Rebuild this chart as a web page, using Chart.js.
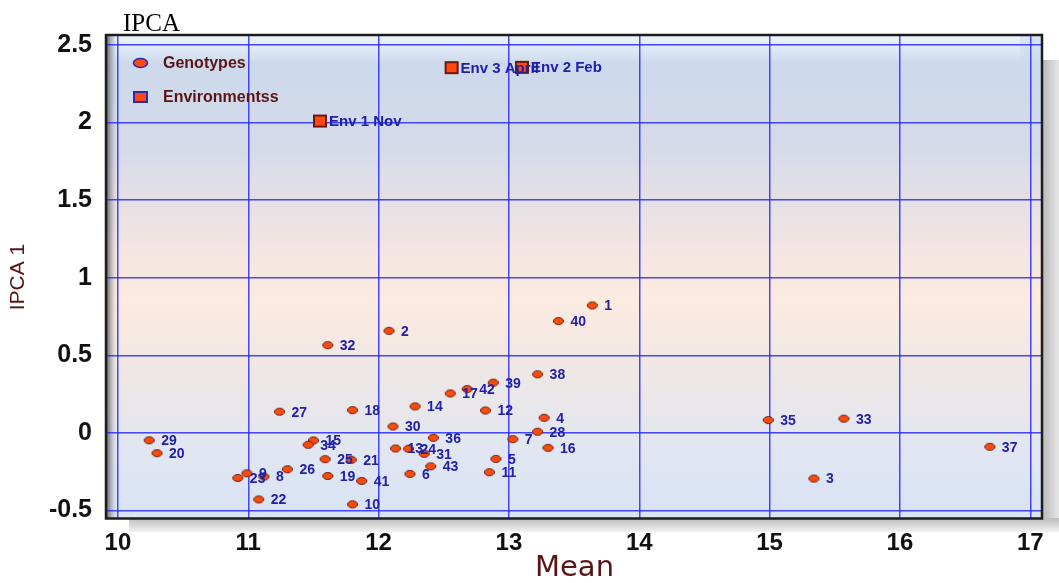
<!DOCTYPE html>
<html>
<head>
<meta charset="utf-8">
<script src="https://cdn.jsdelivr.net/npm/chart.js@4.4.1/dist/chart.umd.min.js"></script>
<style>
  html, body { margin: 0; padding: 0; background: #fff; overflow: hidden; }
  canvas { display: block; }
</style>
</head>
<body>
<canvas id="chart" width="1059" height="583"></canvas>
<script>
// Genotypes: mean yield and first IPCA score
const genotypeIds = ['1','2','3','4','5','6','7','8','9','10','11','12','13','14','15','16','17','18','19','20','21','22','23','24','25','26','27','28','29','30','31','32','33','34','35','36','37','38','39','40','41','42','43'];
const genotypeMean = [13.64, 12.08, 15.34, 13.27, 12.90, 12.24, 13.03, 11.12, 10.99, 11.80,
                      12.85, 12.82, 12.13, 12.28, 11.50, 13.30, 12.55, 11.80, 11.61, 10.30,
                      11.79, 11.08, 10.92, 12.23, 11.59, 11.30, 11.24, 13.22, 10.24, 12.11,
                      12.35, 11.61, 15.57, 11.46, 14.99, 12.42, 16.69, 13.22, 12.88, 13.38,
                      11.87, 12.68, 12.40];
const genotypeIPCA1 = [0.822, 0.658, -0.294, 0.098, -0.167, -0.264, -0.040, -0.281, -0.260, -0.460,
                       -0.253, 0.145, -0.100, 0.171, -0.048, -0.096, 0.255, 0.147, -0.277, -0.130,
                       -0.173, -0.428, -0.290, -0.102, -0.169, -0.234, 0.137, 0.008, -0.047, 0.042,
                       -0.134, 0.566, 0.092, -0.076, 0.083, -0.031, -0.089, 0.378, 0.324, 0.721,
                       -0.309, 0.283, -0.215];

// Environments
const envNames = ['Env 1 Nov', 'Env 2 Feb', 'Env 3 April'];
const envMean = [11.55, 13.10, 12.56];
const envIPCA1 = [2.010, 2.356, 2.354];

// Axis ticks and legend entries
const xTickValues = [10, 11, 12, 13, 14, 15, 16, 17];
const yTickValues = [-0.5, 0, 0.5, 1, 1.5, 2, 2.5];
const legendLabels = ['Genotypes', 'Environmentss'];

const ORANGE = '#ff4a0c';
const LABEL_BLUE = '#2020aa';
const MAROON = '#5a1414';
const GRID_BLUE = 'rgba(40,40,255,0.85)';
const SANS = '"Liberation Sans", Arial, sans-serif';

// small sprites used as point styles
function ellipseSprite(w, h, fill, stroke, lw) {
  const c = document.createElement('canvas');
  c.width = w + 3; c.height = h + 3;
  const g = c.getContext('2d');
  g.beginPath();
  g.ellipse(c.width / 2, c.height / 2, w / 2, h / 2, 0, 0, Math.PI * 2);
  g.fillStyle = fill; g.fill();
  g.lineWidth = lw; g.strokeStyle = stroke; g.stroke();
  return c;
}
function squareSprite(w, h, fill, stroke, lw) {
  const c = document.createElement('canvas');
  c.width = w + 2; c.height = h + 2;
  const g = c.getContext('2d');
  g.fillStyle = fill; g.fillRect(1, 1, w, h);
  g.lineWidth = lw; g.strokeStyle = stroke;
  g.strokeRect(1 + lw / 2, 1 + lw / 2, w - lw, h - lw);
  return c;
}

const genoMarker = ellipseSprite(10, 7, ORANGE, '#5a1a08', 1);
const envMarker = squareSprite(14, 13, ORANGE, '#6e1608', 2);
const legendMarkers = [ellipseSprite(14, 9, ORANGE, '#2a2ab8', 1.6), squareSprite(15, 12, ORANGE, '#2a2ab8', 2)];

// background panel, drop shadow, and frame
const panel = {
  id: 'panel',
  beforeDraw(chart) {
    const { ctx, chartArea: a, width, height } = chart;
    ctx.save();
    ctx.fillStyle = '#ffffff';
    ctx.fillRect(0, 0, width, height);

    // drop shadow right and below
    let g = ctx.createLinearGradient(a.right, 0, width, 0);
    g.addColorStop(0, '#b8b8b8');
    g.addColorStop(1, '#e6e6e6');
    ctx.fillStyle = g;
    ctx.fillRect(a.right, a.top + 24, width - a.right, a.bottom - a.top - 10);
    g = ctx.createLinearGradient(0, a.bottom, 0, a.bottom + 14);
    g.addColorStop(0, '#bcbcbc');
    g.addColorStop(1, '#f2f2f2');
    ctx.fillStyle = g;
    ctx.fillRect(a.left + 22, a.bottom, width - a.left - 22, 14);

    // plot background
    g = ctx.createLinearGradient(0, a.top, 0, a.bottom);
    g.addColorStop(0.00, '#dae6f7');
    g.addColorStop(0.06, '#ccd9ec');
    g.addColorStop(0.24, '#d6dbe9');
    g.addColorStop(0.44, '#f3e5e2');
    g.addColorStop(0.55, '#fcebdf');
    g.addColorStop(0.70, '#eee7e6');
    g.addColorStop(0.86, '#e1e6f1');
    g.addColorStop(1.00, '#d8e3f5');
    ctx.fillStyle = g;
    ctx.fillRect(a.left, a.top, a.right - a.left, a.bottom - a.top);

    // glossy band along the top
    g = ctx.createLinearGradient(0, a.top, 0, a.top + 26);
    g.addColorStop(0, 'rgba(240,248,255,0.75)');
    g.addColorStop(1, 'rgba(240,248,255,0)');
    ctx.fillStyle = g;
    ctx.fillRect(a.left + 8, a.top, a.right - a.left - 30, 26);

    // bevel on the left inner edge
    g = ctx.createLinearGradient(a.left, 0, a.left + 9, 0);
    g.addColorStop(0, 'rgba(90,90,90,0.85)');
    g.addColorStop(1, 'rgba(160,160,170,0)');
    ctx.fillStyle = g;
    ctx.fillRect(a.left, a.top, 9, a.bottom - a.top);
    ctx.restore();
  },
  afterDraw(chart) {
    const { ctx, chartArea: a } = chart;
    ctx.save();
    ctx.strokeStyle = '#1c1c1c';
    ctx.lineWidth = 2.5;
    ctx.strokeRect(a.left - 1, a.top - 1, a.right - a.left + 1, a.bottom - a.top + 1.5);
    // title at top left
    ctx.fillStyle = '#000';
    ctx.font = '25px "Liberation Serif", "Times New Roman", serif';
    ctx.textBaseline = 'alphabetic';
    ctx.textAlign = 'left';
    ctx.fillText('IPCA', 123, 31);
    ctx.restore();
  }
};

// value labels beside every point, plus the key in the upper left corner
const annotations = {
  id: 'annotations',
  afterDatasetsDraw(chart) {
    const ctx = chart.ctx;
    chart.data.datasets.forEach((ds, i) => {
      const meta = chart.getDatasetMeta(i);
      ctx.save();
      ctx.font = ds.labelFont;
      ctx.fillStyle = LABEL_BLUE;
      ctx.textBaseline = 'middle';
      ctx.textAlign = 'left';
      meta.data.forEach((el, j) => {
        ctx.fillText(ds.pointLabels[j], el.x + ds.labelOffset, el.y + 1);
      });
      ctx.restore();
    });

    const a = chart.chartArea;
    const rows = [a.top + 27, a.top + 61];
    ctx.save();
    ctx.font = 'bold 16px ' + SANS;
    ctx.fillStyle = MAROON;
    ctx.textBaseline = 'middle';
    ctx.textAlign = 'left';
    legendLabels.forEach((txt, k) => {
      const m = legendMarkers[k];
      ctx.drawImage(m, Math.round(a.left + 33 - m.width / 2), Math.round(rows[k] - m.height / 2));
      ctx.fillText(txt, a.left + 56, rows[k] + 1);
    });
    ctx.restore();
  }
};

const tickFont = (size) => ({ family: SANS, size: size, weight: 'bold' });

new Chart(document.getElementById('chart'), {
  type: 'scatter',
  data: {
    datasets: [
      {
        label: legendLabels[1],
        data: envMean.map((x, i) => ({ x: x, y: envIPCA1[i] })),
        pointLabels: envNames,
        labelFont: 'bold 15px ' + SANS,
        labelOffset: 9,
        pointStyle: envMarker,
        pointRadius: 7
      },
      {
        label: legendLabels[0],
        data: genotypeMean.map((x, i) => ({ x: x, y: genotypeIPCA1[i] })),
        pointLabels: genotypeIds,
        labelFont: 'bold 14px ' + SANS,
        labelOffset: 12,
        pointStyle: genoMarker,
        pointRadius: 5
      }
    ]
  },
  options: {
    responsive: false,
    animation: false,
    events: [],
    layout: { padding: { top: 36, right: 17, left: 0, bottom: 0 } },
    plugins: { legend: { display: false }, tooltip: { enabled: false } },
    scales: {
      x: {
        type: 'linear',
        min: 9.916,
        max: 17.09,
        afterBuildTicks: (s) => { s.ticks = xTickValues.map(v => ({ value: v })); },
        afterFit: (s) => { s.height = 65; },
        border: { display: false },
        grid: { color: GRID_BLUE, lineWidth: 1.5, drawTicks: false },
        ticks: { font: tickFont(24), color: '#111', padding: 11, callback: (v) => String(v) },
        title: { display: true, text: 'Mean', color: MAROON, font: { family: '"DejaVu Sans", sans-serif', size: 29, lineHeight: 1 }, padding: 0 }
      },
      y: {
        type: 'linear',
        min: -0.548,
        max: 2.558,
        afterBuildTicks: (s) => { s.ticks = yTickValues.map(v => ({ value: v })); },
        afterFit: (s) => { s.width = 107; },
        border: { display: false },
        grid: { color: GRID_BLUE, lineWidth: 1.5, drawTicks: false },
        ticks: { font: tickFont(25), color: '#111', padding: 15, callback: (v) => String(v) },
        title: { display: true, text: 'IPCA 1', color: MAROON, font: { family: SANS, size: 21, lineHeight: 1.2 }, padding: { top: 6, bottom: 0 } }
      }
    }
  },
  plugins: [panel, annotations]
});
</script>
</body>
</html>
